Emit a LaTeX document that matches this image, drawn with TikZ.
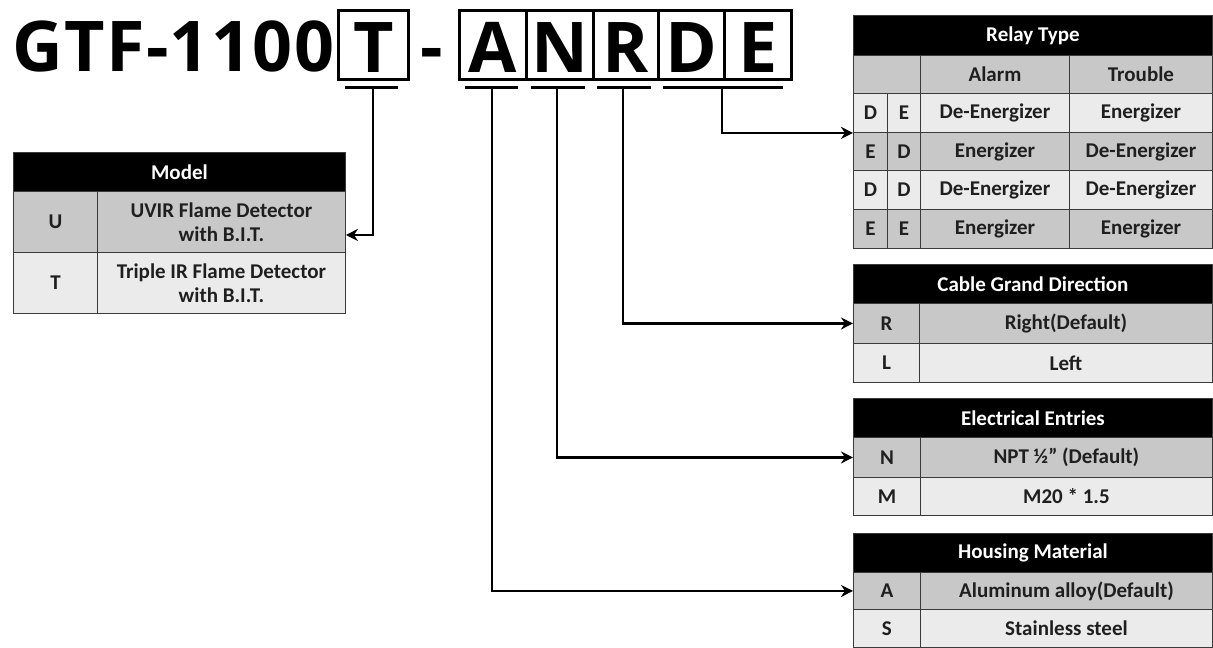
\documentclass[tikz,border=0pt]{standalone}
\usepackage{fontspec}
\setmainfont{Carlito}
\newfontfamily\titlefont{Open Sans}
\newfontfamily\titlefontsp[LetterSpace=2]{Open Sans}
\usetikzlibrary{arrows.meta,calc}
\definecolor{rowdark}{HTML}{C8C8C8}
\definecolor{rowlight}{HTML}{EBEBEB}
\definecolor{gridline}{HTML}{3A3A3A}
\newcommand\cellbox[7]{\node[cell,#6,minimum width={#4-#2},minimum height={#5-#3}] (#1) at (#2,#3) {#7};}
\tikzset{
  cell/.style={draw=gridline, line width=0.9pt, inner sep=0pt, anchor=north west, align=center,
     font=\fontsize{21}{24}\selectfont\bfseries, text=black!88},
  hdr/.style={fill=black, text=white},
  dk/.style={fill=rowdark},
  lt/.style={fill=rowlight},
  bigtext/.style={font=\titlefontsp\fontsize{70}{72}\selectfont\bfseries, inner sep=0pt},
  letterbox/.style={draw=black, line width=2.6pt, inner sep=0pt, anchor=north west,
     font=\titlefont\fontsize{70}{72}\selectfont\bfseries, text height=55pt, text depth=0pt},
  ul/.style={line width=3pt},
  conn/.style={line width=2.6pt, -{Stealth[length=12pt,width=12pt]}},
}
\begin{document}
\begin{tikzpicture}[x=1pt,y=-1pt]
\useasboundingbox (0,0) rectangle (1213,648);
% title
\node[bigtext, anchor=base west] (title) at (12,71) {GTF-1100};
\node[letterbox, minimum width=70, minimum height=69] (bT) at (337,9) {T};
\node[bigtext, anchor=base] (dash) at (432,71) {-};
\node[letterbox, minimum width=67, minimum height=69] (bA) at (458,9) {A};
\node[letterbox, minimum width=67, minimum height=69] (bN) at (525,9) {N};
\node[letterbox, minimum width=65, minimum height=69] (bR) at (592,9) {R};
\node[letterbox, minimum width=66, minimum height=69] (bD) at (657,9) {D};
\node[letterbox, minimum width=67, minimum height=69] (bE) at (723,9) {E};
% underlines
\draw[ul] (345,87) -- (398,87);
\draw[ul] (465,87) -- (518,87);
\draw[ul] (531,87) -- (585,87);
\draw[ul] (597,87) -- (651,87);
\draw[ul] (663,87) -- (783,87);
\coordinate (ulT) at (373,87);
\coordinate (ulA) at (492,87);
\coordinate (ulN) at (557,87);
\coordinate (ulR) at (623,87);
\coordinate (ulDE) at (722,87);
% Model table
\cellbox{mH}{13}{152}{345}{191}{hdr}{Model}
\cellbox{mUk}{13}{191}{97}{252}{dk}{U}
\cellbox{mU}{97}{191}{345}{252}{dk}{UVIR Flame Detector\\with B.I.T.}
\cellbox{mTk}{13}{252}{97}{313}{lt}{T}
\cellbox{mT}{97}{252}{345}{313}{lt}{Triple IR Flame Detector\\with B.I.T.}
% Relay table
\cellbox{rH}{853}{15}{1212}{55}{hdr}{Relay Type}
\cellbox{r0k}{853}{55}{920}{93}{dk}{}
\cellbox{r0a}{920}{55}{1069}{93}{dk}{Alarm}
\cellbox{r0t}{1069}{55}{1212}{93}{dk}{Trouble}
\cellbox{r1a}{853}{93}{887}{132}{lt}{D}
\cellbox{r1b}{887}{93}{920}{132}{lt}{E}
\cellbox{r1c}{920}{93}{1069}{132}{lt}{De-Energizer}
\cellbox{r1d}{1069}{93}{1212}{132}{lt}{Energizer}
\cellbox{r2a}{853}{132}{887}{170}{dk}{E}
\cellbox{r2b}{887}{132}{920}{170}{dk}{D}
\cellbox{r2c}{920}{132}{1069}{170}{dk}{Energizer}
\cellbox{r2d}{1069}{132}{1212}{170}{dk}{De-Energizer}
\cellbox{r3a}{853}{170}{887}{209}{lt}{D}
\cellbox{r3b}{887}{170}{920}{209}{lt}{D}
\cellbox{r3c}{920}{170}{1069}{209}{lt}{De-Energizer}
\cellbox{r3d}{1069}{170}{1212}{209}{lt}{De-Energizer}
\cellbox{r4a}{853}{209}{887}{248}{dk}{E}
\cellbox{r4b}{887}{209}{920}{248}{dk}{E}
\cellbox{r4c}{920}{209}{1069}{248}{dk}{Energizer}
\cellbox{r4d}{1069}{209}{1212}{248}{dk}{Energizer}
% Cable table
\cellbox{cH}{853}{264}{1212}{303}{hdr}{Cable Grand Direction}
\cellbox{cRk}{853}{303}{919}{343}{dk}{R}
\cellbox{cR}{919}{303}{1212}{343}{dk}{Right(Default)}
\cellbox{cLk}{853}{343}{919}{382}{lt}{L}
\cellbox{cL}{919}{343}{1212}{382}{lt}{Left}
% Electrical table
\cellbox{eH}{853}{398}{1212}{437}{hdr}{Electrical Entries}
\cellbox{eNk}{853}{437}{920}{477}{dk}{N}
\cellbox{eN}{920}{437}{1212}{477}{dk}{NPT ½" (Default)}
\cellbox{eMk}{853}{477}{920}{515}{lt}{M}
\cellbox{eM}{920}{477}{1212}{515}{lt}{M20 * 1.5}
% Housing table
\cellbox{hH}{853}{533}{1212}{572}{hdr}{Housing Material}
\cellbox{hAk}{853}{572}{920}{609}{dk}{A}
\cellbox{hA}{920}{572}{1212}{609}{dk}{Aluminum alloy(Default)}
\cellbox{hSk}{853}{609}{920}{647}{lt}{S}
\cellbox{hS}{920}{609}{1212}{647}{lt}{Stainless steel}
% connectors
\coordinate (mIn) at ($(mU.east)+(0,13)$);
\coordinate (rIn) at (r1a.south west);
\draw[conn] (ulT) |- (mIn);
\draw[conn] (ulDE) |- (rIn);
\draw[conn] (ulR) |- (cRk.west);
\draw[conn] (ulN) |- (eNk.west);
\draw[conn] (ulA) |- (hAk.west);
\end{tikzpicture}
\end{document}
